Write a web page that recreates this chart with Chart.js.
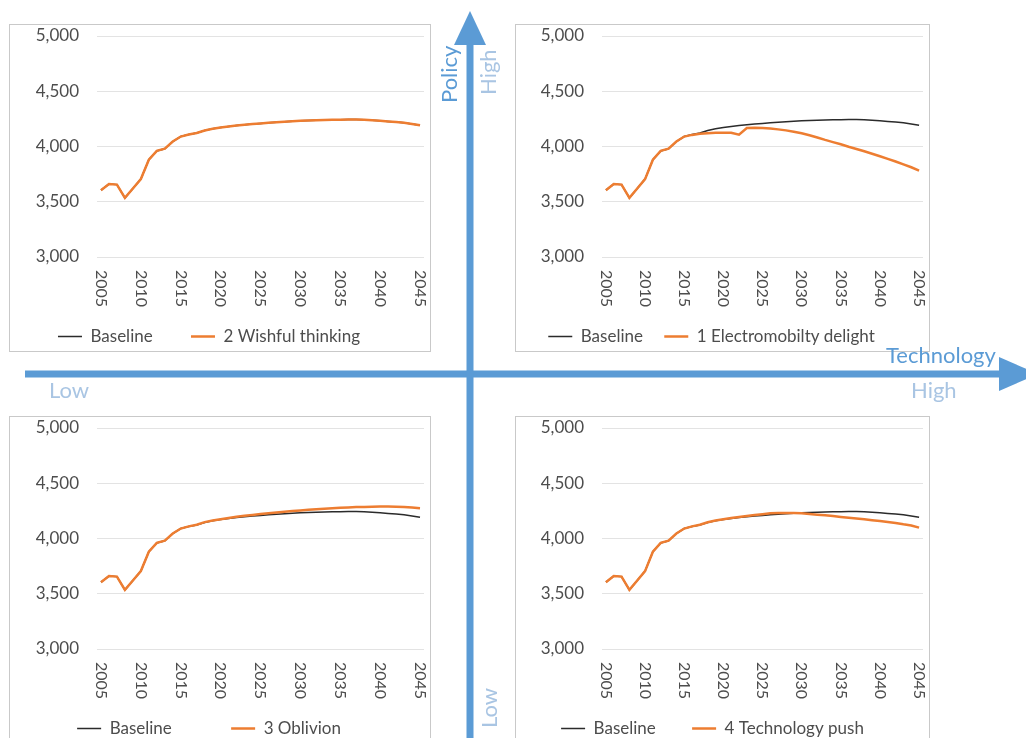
<!DOCTYPE html>
<html>
<head>
<meta charset="utf-8">
<script src="https://cdn.jsdelivr.net/npm/chart.js@4.4.0/dist/chart.umd.min.js"></script>
<style>
  body { margin: 0; width: 1026px; height: 738px; overflow: hidden; background: #fff; position: relative; font-family: Lato, sans-serif; }
  .box { position: absolute; box-sizing: border-box; border: 1px solid #c9c9c9; background: #fff; }
  canvas { position: absolute; z-index: 1; }
  svg { position: absolute; left: 0; top: 0; z-index: 2; }
</style>
</head>
<body>
<div class="box" style="left:9px;top:24px;width:422px;height:328px"></div>
<div class="box" style="left:515px;top:24px;width:415px;height:328px"></div>
<div class="box" style="left:9px;top:416px;width:422px;height:340px"></div>
<div class="box" style="left:515px;top:416px;width:415px;height:340px"></div>

<canvas id="wishful"></canvas>
<canvas id="electro"></canvas>
<canvas id="oblivion"></canvas>
<canvas id="techpush"></canvas>

<svg width="1026" height="738">
  <!-- axes of the scenario cross -->
  <rect x="25" y="370.5" width="976" height="7" fill="#5B9BD5"/>
  <polygon points="999,357 1038,374 999,391" fill="#5B9BD5"/>
  <rect x="466.5" y="40" width="7" height="710" fill="#5B9BD5"/>
  <polygon points="454,45 470,11 486,45" fill="#5B9BD5"/>
  <g font-family="Lato, sans-serif" font-size="22">
    <text transform="translate(457,103) rotate(-90)" fill="#5B9BD5">Policy</text>
    <text transform="translate(496,95) rotate(-90)" fill="#A9C5E3">High</text>
    <text transform="translate(497,728) rotate(-90)" fill="#A9C5E3">Low</text>
    <text x="886" y="363" fill="#5B9BD5">Technology</text>
    <text x="911" y="398" fill="#A9C5E3">High</text>
    <text x="49" y="398" fill="#A9C5E3">Low</text>
  </g>
</svg>

<script>
// jaren (categorieen) en de getoonde jaartallen
const years = [2005, 2006, 2007, 2008, 2009, 2010, 2011, 2012, 2013, 2014,
               2015, 2016, 2017, 2018, 2019, 2020, 2021, 2022, 2023, 2024,
               2025, 2026, 2027, 2028, 2029, 2030, 2031, 2032, 2033, 2034,
               2035, 2036, 2037, 2038, 2039, 2040, 2041, 2042, 2043, 2044, 2045];
const yearTicks = [2005, 2010, 2015, 2020, 2025, 2030, 2035, 2040, 2045];
const yTicks = [3000, 3500, 4000, 4500, 5000];

// series
const baseline = [3605, 3660, 3655, 3535, 3620, 3705, 3880, 3960, 3980, 4045,
                  4090, 4108, 4122, 4145, 4160, 4172, 4182, 4190, 4197, 4203,
                  4209, 4214, 4219, 4224, 4228, 4232, 4235, 4238, 4240, 4242,
                  4243, 4244, 4244, 4242, 4238, 4233, 4227, 4221, 4214, 4204, 4192];
const wishful = [3605, 3660, 3655, 3535, 3620, 3705, 3880, 3960, 3980, 4045,
                 4090, 4108, 4122, 4145, 4160, 4172, 4182, 4190, 4197, 4203,
                 4209, 4214, 4219, 4224, 4228, 4232, 4235, 4238, 4240, 4242,
                 4243, 4244, 4244, 4242, 4238, 4233, 4227, 4221, 4214, 4204, 4192];
const electro = [3605, 3660, 3655, 3535, 3620, 3705, 3880, 3960, 3980, 4045,
                 4090, 4105, 4115, 4120, 4124, 4125, 4125, 4107, 4168, 4170,
                 4168, 4162, 4155, 4146, 4134, 4120, 4102, 4082, 4060, 4040,
                 4020, 3998, 3978, 3957, 3935, 3912, 3888, 3864, 3838, 3812, 3782];
const oblivion = [3605, 3660, 3655, 3535, 3620, 3705, 3880, 3960, 3980, 4045,
                  4090, 4110, 4125, 4148, 4163, 4175, 4186, 4196, 4205, 4213,
                  4221, 4228, 4235, 4242, 4248, 4254, 4260, 4265, 4270, 4274,
                  4278, 4281, 4284, 4286, 4288, 4289, 4289, 4288, 4285, 4280, 4274];
const techPush = [3605, 3660, 3655, 3535, 3620, 3705, 3880, 3960, 3980, 4045,
                  4090, 4110, 4124, 4147, 4162, 4175, 4185, 4195, 4203, 4212,
                  4220, 4228, 4230, 4230, 4230, 4228, 4222, 4216, 4210, 4203,
                  4195, 4188, 4182, 4175, 4166, 4158, 4150, 4140, 4128, 4118, 4098];

const FONT = "Lato, sans-serif";
const TEXT = "#4d4d4d";
const LEGEND_LINE = 24;
const LABEL_SIZE = 17;

// jaartallen verticaal, van boven naar beneden gelezen
const yearLabels = {
    id: "yearLabels",
    afterDraw(chart) {
        const ctx = chart.ctx;
        const xs = chart.scales.x;
        ctx.save();
        ctx.font = "16px " + FONT;
        ctx.fillStyle = TEXT;
        ctx.textAlign = "left";
        ctx.textBaseline = "middle";
        yearTicks.forEach((yr) => {
            ctx.save();
            ctx.translate(xs.getPixelForValue(years.indexOf(yr)), chart.chartArea.bottom + 13);
            ctx.rotate(Math.PI / 2);
            ctx.fillText(String(yr), 0, 0);
            ctx.restore();
        });
        ctx.restore();
    },
};

const measure = document.createElement("canvas").getContext("2d");
measure.font = LABEL_SIZE + "px " + FONT;

function makeChart(id, pos, label, values) {
    const cv = document.getElementById(id);
    cv.width = pos.w + 12;
    cv.height = 330;
    cv.style.left = pos.left + "px";
    cv.style.top = pos.top + "px";

    // afstand tussen begin van legenda-item 1 en item 2
    const firstItem = LEGEND_LINE + LABEL_SIZE / 2 + measure.measureText("Baseline").width;
    const legendPad = Math.max(4, pos.gap - firstItem);
    const legendHeight = LABEL_SIZE + legendPad + 10;

    return new Chart(cv.getContext("2d"), {
        type: "line",
        data: {
            labels: years,
            datasets: [
                {
                    label: "Baseline",
                    data: baseline,
                    borderColor: "#2b2b2b",
                    backgroundColor: "#2b2b2b",
                    borderWidth: 1.5,
                    pointRadius: 0,
                    tension: 0,
                    order: 1,
                },
                {
                    label: label,
                    data: values,
                    borderColor: "#ED7D31",
                    backgroundColor: "#ED7D31",
                    borderWidth: 2.5,
                    pointRadius: 0,
                    tension: 0,
                    order: 0,
                },
            ],
        },
        options: {
            responsive: false,
            animation: false,
            layout: { padding: { top: 11, left: 0, right: 12, bottom: 0 } },
            plugins: {
                legend: {
                    position: "bottom",
                    labels: {
                        usePointStyle: true,
                        pointStyle: "line",
                        pointStyleWidth: LEGEND_LINE,
                        padding: legendPad,
                        color: TEXT,
                        font: { family: FONT, size: LABEL_SIZE },
                        sort: (a, b) => a.datasetIndex - b.datasetIndex,
                    },
                },
                tooltip: { enabled: false },
            },
            scales: {
                x: {
                    offset: true,
                    grid: { display: false },
                    border: { display: false },
                    ticks: { display: false },
                    afterFit: (s) => { s.height = 98 - legendHeight; },
                },
                y: {
                    min: 3000,
                    max: 5000,
                    afterBuildTicks: (s) => { s.ticks = yTicks.map((v) => ({ value: v })); },
                    afterFit: (s) => { s.width = pos.yw; },
                    grid: { color: "#e3e3e3", drawTicks: true, tickLength: 18, tickColor: "rgba(0,0,0,0)" },
                    border: { display: false },
                    ticks: {
                        padding: 0,
                        color: TEXT,
                        font: { family: FONT, size: LABEL_SIZE },
                        callback: (v) => v.toLocaleString("en-US"),
                    },
                },
            },
        },
        plugins: [yearLabels],
    });
}

makeChart("wishful",  { left: -6,  top: 25,  w: 430, yw: 103, gap: 133 }, "2 Wishful thinking", wishful);
makeChart("electro",  { left: 500, top: 25,  w: 423, yw: 102, gap: 116 }, "1 Electromobilty delight", electro);
makeChart("oblivion", { left: -6,  top: 417, w: 430, yw: 103, gap: 154 }, "3 Oblivion", oblivion);
makeChart("techpush", { left: 502, top: 417, w: 421, yw: 100, gap: 131 }, "4 Technology push", techPush);
</script>
</body>
</html>
